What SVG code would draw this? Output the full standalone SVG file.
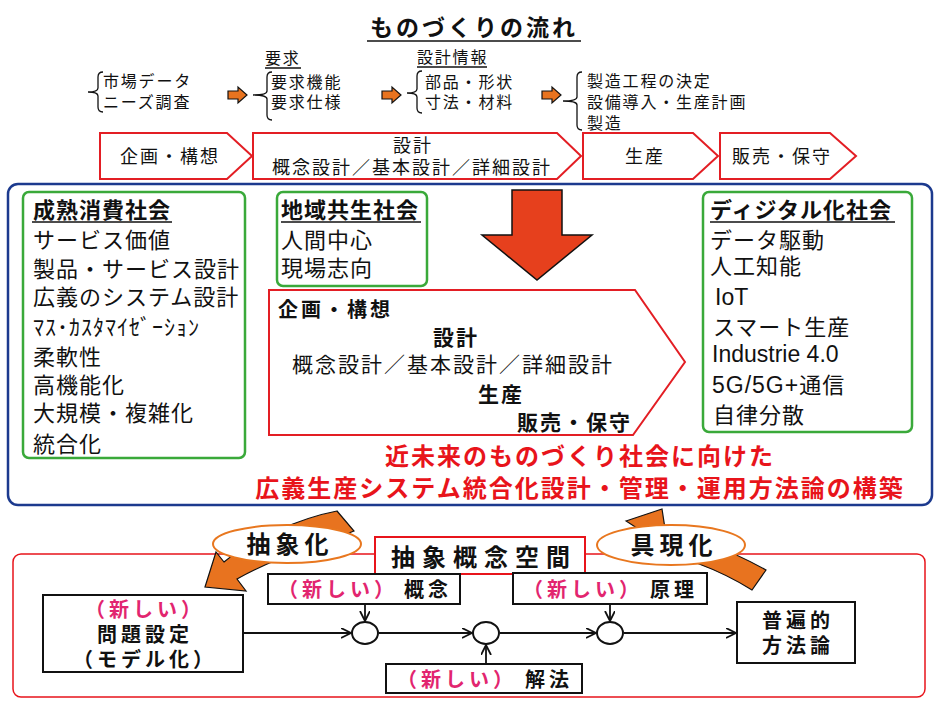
<svg xmlns="http://www.w3.org/2000/svg" width="940" height="704" viewBox="0 0 940 704">
<defs>
<style>
text{font-family:"Noto Sans CJK JP","Noto Sans",sans-serif;fill:#111}
.s16{font-size:16px;letter-spacing:1.8px}
.chev{fill:#fff;stroke:#e31e24;stroke-width:2}
.chevt{font-size:18px;letter-spacing:2px}
.grn{fill:#fff;stroke:#3aa93a;stroke-width:2.5}
.li{font-size:22px;letter-spacing:1px}
.hd{font-size:22px;font-weight:bold;letter-spacing:1px}
.lat{font-family:"Liberation Sans",Arial,sans-serif;font-size:23px}
.ul{stroke:#111;stroke-width:1.5}
.br{fill:none;stroke:#111;stroke-width:1.3}
.oa{fill:#e8731f;stroke:#111;stroke-width:1.2}
.bx{fill:#fff;stroke:#111;stroke-width:2}
.bt{font-size:20px;font-weight:bold;letter-spacing:4px}
.mg{fill:#e2256f}
.red{fill:#e8141b;font-size:24px;font-weight:bold;letter-spacing:2px}
.ell{fill:#fff;stroke:#e8771f;stroke-width:2}
.ln{stroke:#111;stroke-width:1.8;fill:none;marker-end:url(#ah)}
</style>
<marker id="ah" markerUnits="userSpaceOnUse" markerWidth="12" markerHeight="12" refX="10" refY="5" orient="auto">
<path d="M0,0 L10,5 L0,10" fill="none" stroke="#111" stroke-width="1.8"/>
</marker>
</defs>
<rect width="940" height="704" fill="#fff"/>

<g id="title">
<text x="474" y="36" font-size="23" font-weight="bold" letter-spacing="3" text-anchor="middle">ものづくりの流れ</text>
<line class="ul" x1="367" y1="41" x2="581" y2="41"/>
</g>

<g id="flow-top">
<path class="br" d="M103,72 Q98,72 98,77 L98,88 Q98,92 88,92 Q98,92 98,96 L98,107 Q98,112 103,112"/>
<text class="s16" x="103" y="87">市場データ</text>
<text class="s16" x="103" y="108">ニーズ調査</text>

<text class="s16" x="265" y="64">要求</text>
<line class="ul" x1="265" y1="68" x2="301" y2="68" stroke-width="1.2"/>
<path class="br" d="M272,72 Q267,72 267,77 L267,91 Q267,95 253,95 Q267,95 267,99 L267,115 Q267,120 272,120"/>
<text class="s16" x="271" y="88">要求機能</text>
<text class="s16" x="271" y="108">要求仕様</text>

<text class="s16" x="417" y="63">設計情報</text>
<line class="ul" x1="417" y1="67" x2="487" y2="67" stroke-width="1.2"/>
<path class="br" d="M422,71 Q417,71 417,76 L417,89 Q417,93 407,93 Q417,93 417,97 L417,108 Q417,113 422,113"/>
<text class="s16" x="425" y="88">部品・形状</text>
<text class="s16" x="425" y="108">寸法・材料</text>

<path class="br" d="M582,72 Q577,72 577,77 L577,97 Q577,101 563,101 Q577,101 577,105 L577,125 Q577,130 582,130"/>
<text class="s16" x="587" y="87">製造工程の決定</text>
<text class="s16" x="587" y="108">設備導入・生産計画</text>
<text class="s16" x="587" y="129">製造</text>

<path class="oa" d="M228,91 H238 V87 L247,95 L238,103 V99 H228 Z"/>
<path class="oa" d="M382,91 H392 V87 L401,95 L392,103 V99 H382 Z"/>
<path class="oa" d="M542,91 H552 V87 L561,95 L552,103 V99 H542 Z"/>
</g>

<g id="chevrons-top">
<path class="chev" d="M100,133 H227 L252,156 L227,179 H100 Z"/>
<text class="chevt" x="120" y="163">企画・構想</text>
<path class="chev" d="M253,133 H557 L581,156 L557,179 H253 Z"/>
<text class="chevt" x="393" y="152">設計</text>
<text class="chevt" x="272" y="174">概念設計／基本設計／詳細設計</text>
<path class="chev" d="M583,133 H693 L718,156 L693,179 H583 Z"/>
<text class="chevt" x="625" y="163">生産</text>
<path class="chev" d="M720,133 H830 L856,156 L830,179 H720 Z"/>
<text class="chevt" x="732" y="163">販売・保守</text>
</g>

<g id="society-frame">
<rect x="8" y="184" width="924" height="321" rx="10" fill="none" stroke="#1c3a8e" stroke-width="2.5"/>
</g>

<g id="mature-society">
<rect class="grn" x="23" y="192" width="222" height="266" rx="6"/>
<text class="hd" x="33" y="218">成熟消費社会</text>
<line class="ul" x1="32" y1="222" x2="172" y2="222"/>
<text class="li" x="33" y="248">サービス価値</text>
<text class="li" x="33" y="277">製品・サービス設計</text>
<text class="li" x="33" y="305">広義のシステム設計</text>
<text class="li" x="33" y="335" letter-spacing="0.6">ﾏｽ･ｶｽﾀﾏｲｾﾞｰｼｮﾝ</text>
<text class="li" x="33" y="365">柔軟性</text>
<text class="li" x="33" y="393">高機能化</text>
<text class="li" x="33" y="421">大規模・複雑化</text>
<text class="li" x="33" y="452">統合化</text>
</g>

<g id="regional-society">
<rect class="grn" x="277" y="192" width="150" height="94" rx="6"/>
<text class="hd" x="281" y="218">地域共生社会</text>
<line class="ul" x1="281" y1="222" x2="421" y2="222"/>
<text class="li" x="281" y="248">人間中心</text>
<text class="li" x="281" y="276">現場志向</text>
</g>

<g id="digital-society">
<rect class="grn" x="703" y="192" width="209" height="240" rx="6"/>
<text class="hd" x="710" y="218">ディジタル化社会</text>
<line class="ul" x1="710" y1="222" x2="895" y2="222"/>
<text class="li" x="710" y="248">データ駆動</text>
<text class="li" x="710" y="274">人工知能</text>
<text class="lat" x="715" y="305">IoT</text>
<text class="li" x="713" y="335">スマート生産</text>
<text class="lat" x="712" y="362">Industrie 4.0</text>
<text class="li" x="712" y="393"><tspan class="lat">5G/5G+</tspan>通信</text>
<text class="li" x="713" y="423">自律分散</text>
</g>

<g id="down-arrow">
<path d="M512,190 H562 V235 H592 L537,280 L482,235 H512 Z" fill="#e6401d" stroke="#111" stroke-width="1.5"/>
</g>

<g id="integrated-process">
<path class="chev" d="M269,290 H635 L685,362 L633,435 H269 Z"/>
<text x="278" y="317" font-size="20" font-weight="bold" letter-spacing="3">企画・構想</text>
<text x="433" y="345" font-size="21" font-weight="bold" letter-spacing="2">設計</text>
<text x="292" y="372" font-size="21" letter-spacing="2">概念設計／基本設計／詳細設計</text>
<text x="478" y="402" font-size="21" font-weight="bold" letter-spacing="2">生産</text>
<text x="517" y="430" font-size="21" font-weight="bold" letter-spacing="2">販売・保守</text>
</g>

<g id="goal-text">
<text class="red" x="580" y="465" text-anchor="middle">近未来のものづくり社会に向けた</text>
<text class="red" x="580" y="497" text-anchor="middle">広義生産システム統合化設計・管理・運用方法論の構築</text>
</g>

<g id="abstract-frame">
<rect x="13" y="554" width="912" height="143" rx="8" fill="none" stroke="#e8141b" stroke-width="1.5"/>
</g>

<g id="abstraction">
<path class="oa" d="M205,587 L216,552 L224,562 C250,540 300,518 337,511 L354,531 C320,545 280,555 237,579 L246,591 Z"/>
<ellipse class="ell" cx="287" cy="544" rx="74" ry="19"/>
<text x="290" y="553" font-size="24" font-weight="bold" letter-spacing="5" text-anchor="middle">抽象化</text>
</g>

<g id="realization">
<path class="oa" d="M640,548 L655,530 C690,535 730,550 766,570 L752,590 C720,570 680,555 640,548 Z"/>
<path class="oa" d="M626,521 L662,509 L668,548 Z"/>
<ellipse class="ell" cx="671" cy="545" rx="74" ry="20"/>
<text x="674" y="554" font-size="24" font-weight="bold" letter-spacing="5" text-anchor="middle">具現化</text>
</g>

<g id="abstract-space">
<rect x="375" y="537" width="210" height="37" fill="#fff" stroke="#e8141b" stroke-width="2"/>
<text x="484" y="566" font-size="24" font-weight="bold" letter-spacing="7" text-anchor="middle">抽象概念空間</text>
</g>

<g id="problem">
<rect class="bx" x="43" y="595" width="200" height="77"/>
<text class="bt mg" x="145" y="617" text-anchor="middle">（新しい）</text>
<text class="bt" x="145" y="642" text-anchor="middle">問題設定</text>
<text class="bt" x="145" y="667" text-anchor="middle">（モデル化）</text>
</g>

<g id="concept">
<rect class="bx" x="268" y="574" width="192" height="30"/>
<text class="bt mg" x="278" y="597">（新しい）</text>
<text class="bt" x="404" y="597">概念</text>
</g>

<g id="principle">
<rect class="bx" x="513" y="573" width="194" height="31"/>
<text class="bt mg" x="523" y="597">（新しい）</text>
<text class="bt" x="650" y="597">原理</text>
</g>

<g id="solution">
<rect class="bx" x="386" y="664" width="196" height="29"/>
<text class="bt mg" x="397" y="687">（新しい）</text>
<text class="bt" x="525" y="687">解法</text>
</g>

<g id="methodology">
<rect class="bx" x="737" y="602" width="118" height="61"/>
<text class="bt" x="798" y="628" text-anchor="middle">普遍的</text>
<text class="bt" x="798" y="653" text-anchor="middle">方法論</text>
</g>

<g id="junctions">
<ellipse cx="365" cy="633" rx="13" ry="11" fill="#fff" stroke="#111" stroke-width="2"/>
<ellipse cx="486" cy="633" rx="13" ry="11" fill="#fff" stroke="#111" stroke-width="2"/>
<ellipse cx="610" cy="633" rx="13" ry="11" fill="#fff" stroke="#111" stroke-width="2"/>
</g>

<g id="connectors">
<line class="ln" x1="243" y1="633" x2="351" y2="633"/>
<line class="ln" x1="379" y1="633" x2="472" y2="633"/>
<line class="ln" x1="500" y1="633" x2="596" y2="633"/>
<line class="ln" x1="624" y1="633" x2="736" y2="633"/>
<line class="ln" x1="365" y1="604" x2="365" y2="621"/>
<line class="ln" x1="610" y1="604" x2="610" y2="621"/>
<line class="ln" x1="486" y1="664" x2="486" y2="645"/>
</g>
</svg>
